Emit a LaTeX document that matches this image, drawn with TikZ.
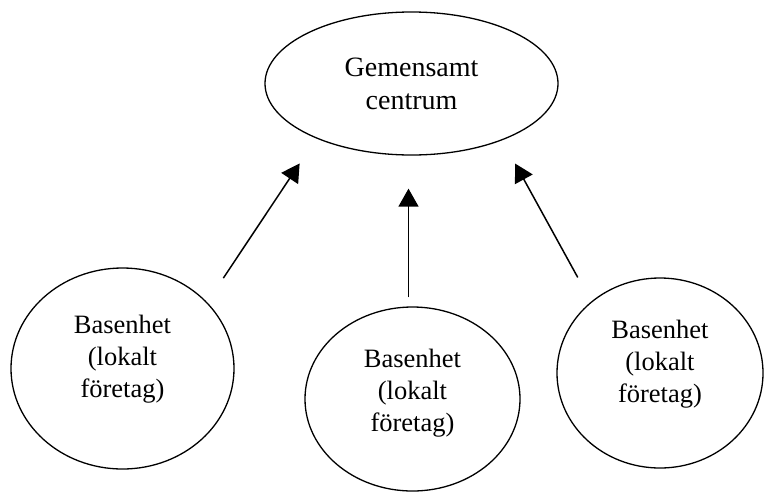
\documentclass[tikz,border=0pt]{standalone}
\usepackage{fontspec}
\setmainfont{Liberation Serif}
\usetikzlibrary{arrows.meta,shapes.geometric}

\begin{document}
\begin{tikzpicture}[x=1pt, y=-1pt,
        unit/.style={draw, ellipse, line width=1.3pt, align=center, inner sep=2pt,
          font=\fontsize{26.5}{32}\selectfont},
        hub/.style={unit, font=\fontsize{28}{33}\selectfont},
        link/.style={line width=1.5pt, -{Triangle[width=20pt,length=18pt]}}
      ]
        % feste Bildgroesse
        \useasboundingbox (0,0) rectangle (765,493);

        % Zentrum
        \node[hub, minimum width=293, minimum height=143, text depth=0pt] (c) at (411.5,83.5) {Gemensamt\\centrum};

        % Basenheter
        \node[unit, minimum width=223, minimum height=201, text depth=24pt] (b1) at (122.5,368.5) {Basenhet\\(lokalt\\företag)};
        \node[unit, minimum width=215, minimum height=184, text depth=18pt] (b2) at (412.5,399) {Basenhet\\(lokalt\\företag)};
        \node[unit, minimum width=206, minimum height=190, text depth=24pt] (b3) at (660,373) {Basenhet\\(lokalt\\företag)};

        % Pfeile
        \draw[link, shorten <=29pt, shorten >=30pt] (b1.38.6) -- (c.210);
        \draw[link, shorten <=9pt, shorten >=33pt] ([xshift=-4pt]b2.north) -- ([xshift=-4pt]b2.north |- c.south);
        \draw[link, shorten <=27.6pt, shorten >=26.6pt] (b3.134.1) -- (c.328.2);
\end{tikzpicture}
\end{document}
